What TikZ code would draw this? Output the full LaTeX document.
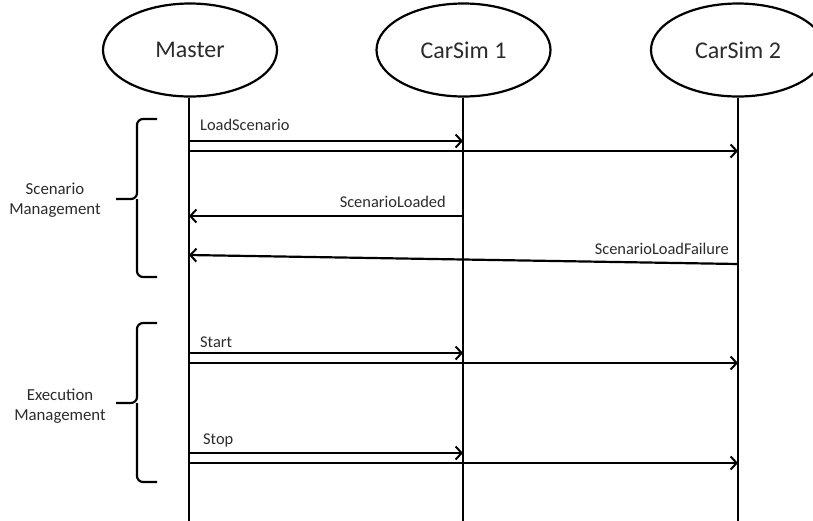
\documentclass[tikz,border=0pt]{standalone}
\usepackage{fontspec}
\setmainfont{Carlito}
\usetikzlibrary{shapes.geometric,arrows.meta}
\definecolor{txt}{HTML}{2B2B2B}
\tikzset{
  actor/.style={draw=black, line width=2.2pt, ellipse, minimum width=174pt, minimum height=93pt, inner sep=0pt, font=\fontsize{24}{27}\selectfont, text=txt},
  life/.style={line width=2.2pt},
  msg/.style={line width=2.2pt, -{Straight Barb[length=6pt,width=13pt,line width=2pt]}},
  lbl/.style={font=\fontsize{16.4}{19}\selectfont, text=txt, inner sep=0pt},
  brace/.style={line width=2.2pt, rounded corners=6pt},
  grp/.style={font=\fontsize{16.8}{20}\selectfont, text=txt, align=center, inner sep=0pt}
}
\begin{document}
\begin{tikzpicture}[x=1pt,y=-1pt]
\useasboundingbox (0,0) rectangle (813,520);
% actors
\node[actor] (master) at (190,50) {Master};
\node[actor] (cs1) at (463.5,50) {CarSim 1};
\node[actor] (cs2) at (738,50) {CarSim 2};
% lifelines
\coordinate (mE) at (189,522);
\coordinate (c1E) at (463,522);
\coordinate (c2E) at (738,522);
\draw[life] (master.south -| mE) -- (mE);
\draw[life] (cs1.south -| c1E) -- (c1E);
\draw[life] (cs2.south -| c2E) -- (c2E);
% message end points
\coordinate (m1) at (189,141); \coordinate (a1) at (463,141);
\coordinate (m2) at (189,151); \coordinate (b2) at (738,151);
\coordinate (a3) at (463,216); \coordinate (m3) at (189,216);
\coordinate (b4) at (738,264); \coordinate (m4) at (189,255);
\coordinate (m5) at (189,353); \coordinate (a5) at (463,353);
\coordinate (m6) at (189,363); \coordinate (b6) at (738,363);
\coordinate (m7) at (189,453); \coordinate (a7) at (463,453);
\coordinate (m8) at (189,463); \coordinate (b8) at (738,463);
% messages
\draw[msg] (m1) -- (a1);
\draw[msg] (m2) -- (b2);
\draw[msg] (a3) -- (m3);
\draw[msg] (b4) -- (m4);
\draw[msg] (m5) -- (a5);
\draw[msg] (m6) -- (b6);
\draw[msg] (m7) -- (a7);
\draw[msg] (m8) -- (b8);
% labels
\node[lbl, anchor=west] (l1) at (200,125) {LoadScenario};
\node[lbl, anchor=east] (l3) at (446,202) {ScenarioLoaded};
\node[lbl, anchor=east] (l4) at (729,249) {ScenarioLoadFailure};
\node[lbl, anchor=west] (l5) at (200,342) {Start};
\node[lbl, anchor=west] (l7) at (203,440) {Stop};
% braces
\draw[brace] (157,119) -- (137,119) -- (137,199) -- (116,199);
\draw[brace] (157,277) -- (137,277) -- (137,199);
\draw[brace] (157,323) -- (137,323) -- (137,403) -- (116,403);
\draw[brace] (157,482) -- (137,482) -- (137,403);
% group labels
\node[grp] (g1) at (55,200) {Scenario\\Management};
\node[grp] (g2) at (60,406) {Execution\\Management};
\end{tikzpicture}
\end{document}
